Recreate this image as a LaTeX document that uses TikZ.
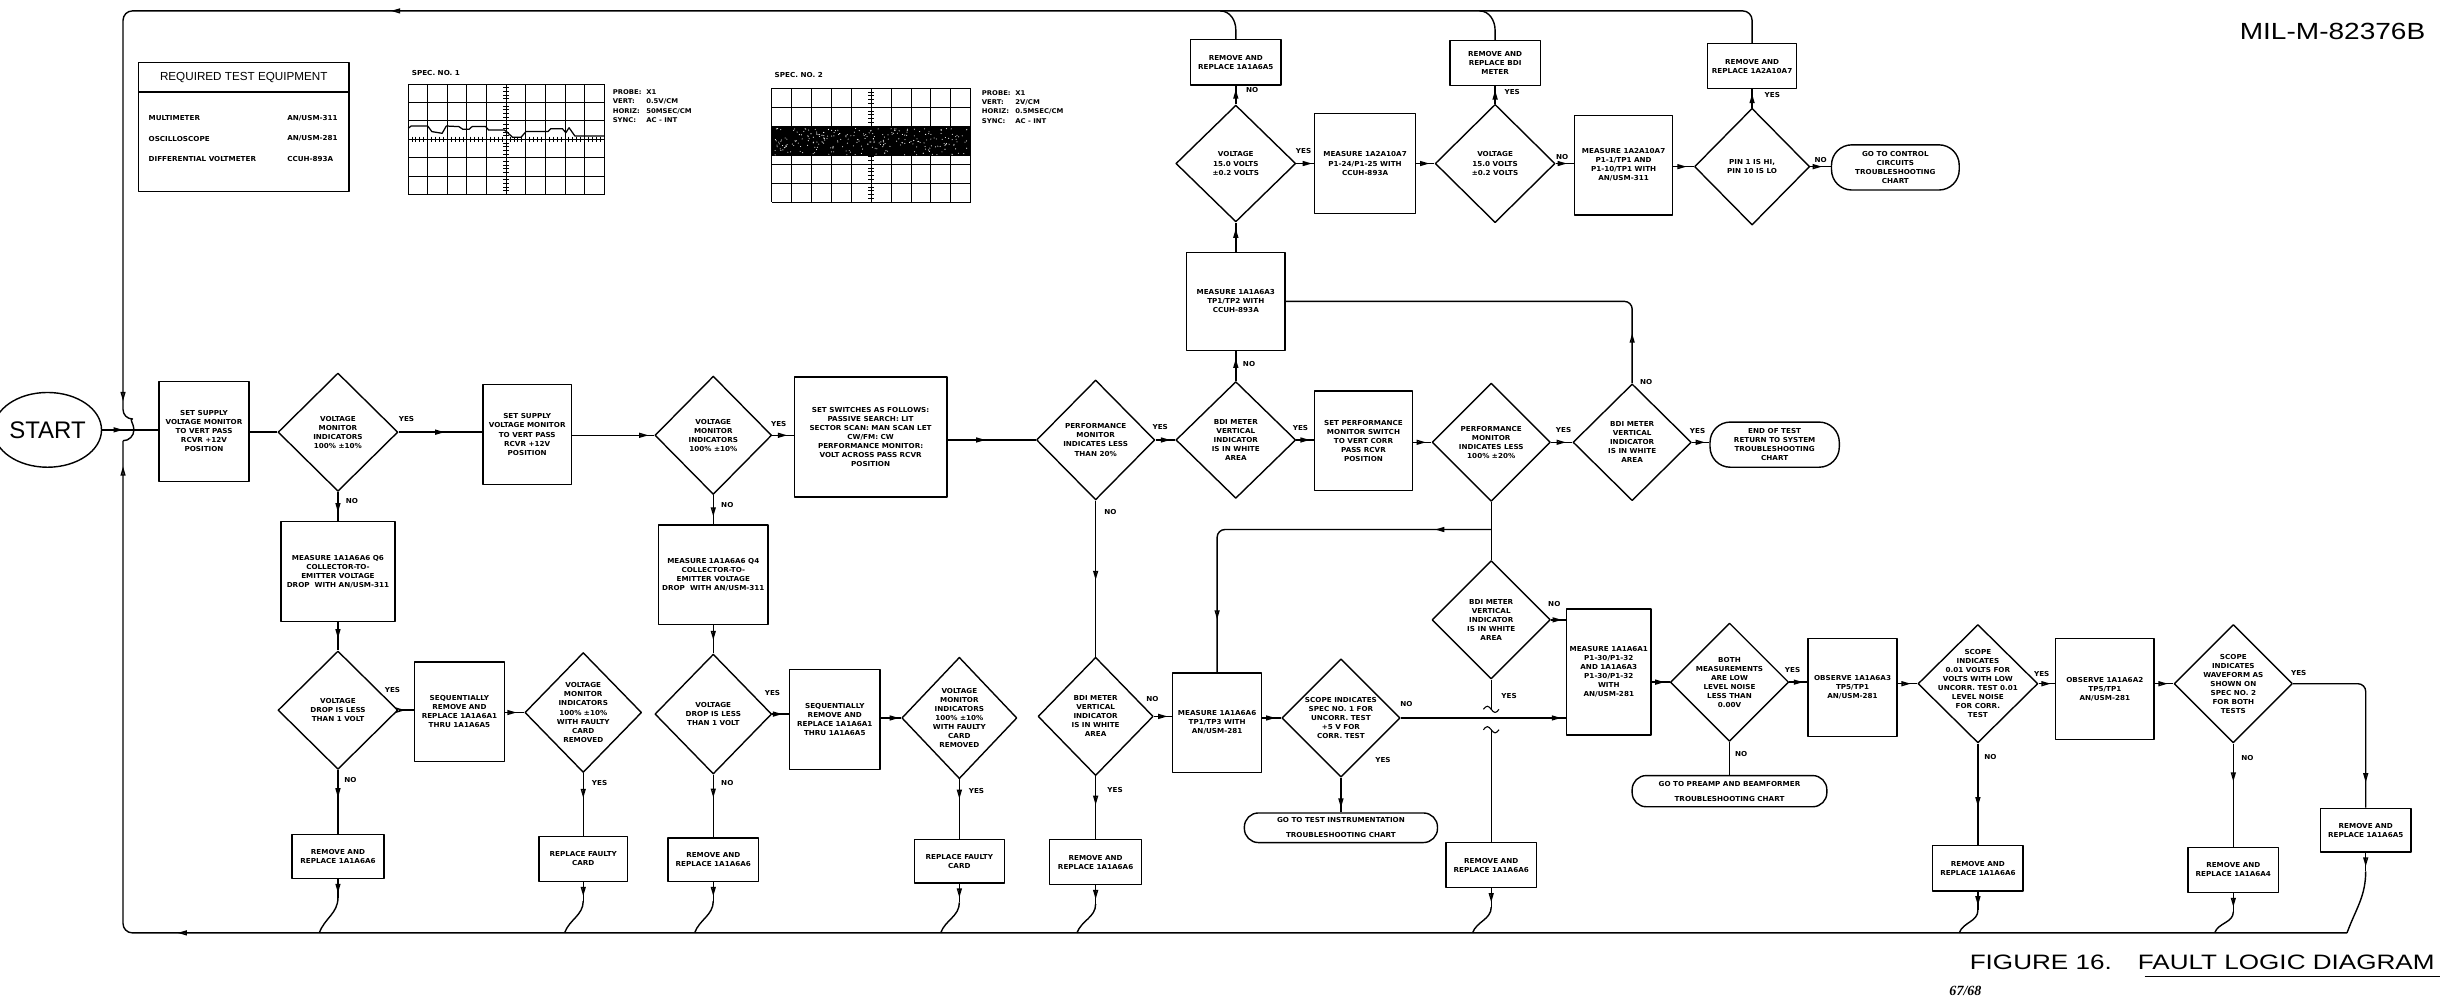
\documentclass[tikz,border=0pt]{standalone}
\usepackage{fontspec}
\setmainfont{Liberation Sans}
\newfontfamily\chartfont[FakeStretch=1.05]{DejaVu Sans}
\newfontfamily\pagefont{Liberation Serif}
\usetikzlibrary{arrows.meta,calc,decorations.markings,shapes.geometric,positioning}

\tikzset{
  >={Triangle[open,length=6pt,width=3.2pt]},
  txt/.style={font=\chartfont\bfseries\fontsize{4.4}{5.8}\selectfont,align=center,inner sep=0pt},
  lbl/.style={font=\chartfont\bfseries\fontsize{4.4}{5.8}\selectfont,inner sep=0pt},
  bx/.style 2 args={draw,rectangle,txt,minimum width=#1pt,minimum height=#2pt},
  term/.style 2 args={draw,rectangle,txt,rounded corners=9pt,minimum width=#1pt,minimum height=#2pt},
  dec/.style 2 args={draw,diamond,inner sep=0pt,minimum width=#1pt,minimum height=#2pt},
  flow/.style={decoration={markings,mark=at position #1 with {\arrow{>}}},postaction={decorate}},
  flow/.default=0.5,
  flowtwo/.style 2 args={decoration={markings,mark=at position #1 with {\arrow{>}},
    mark=at position #2 with {\arrow{>}}},postaction={decorate}},
}

\begin{document}
\begin{tikzpicture}[x=1pt,y=-1pt,line width=0.9pt,line join=round]
\useasboundingbox (0,0) rectangle (1568,643);

% page marks
\node[anchor=east,font=\fontsize{15}{16}\selectfont] (mil) at (1561,20) {\scalebox{1.2}[1]{MIL-M-82376B}};
\node[anchor=east,font=\fontsize{13.4}{14}\selectfont] (fig) at (1567,618)
  {\scalebox{1.25}[1]{FIGURE 16.\hspace{1em}FAULT LOGIC DIAGRAM}};
\draw[line width=1.2pt] (1377,627) -- (1567,627);
\node[font=\pagefont\bfseries\itshape\fontsize{9}{10}\selectfont] (pg) at (1262,636) {67/68};

% required test equipment
\node[draw,minimum width=135pt,minimum height=83pt] (eqp) at (156.5,81.5) {};
\draw (89,59) -- (224,59);
\node[font=\fontsize{7.5}{9}\selectfont] (eqt) at (156.5,50) {REQUIRED TEST EQUIPMENT};
\node[lbl,anchor=west] (eq1) at (95,76) {MULTIMETER};
\node[lbl,anchor=west] (eq1v) at (184,76) {AN/USM-311};
\node[lbl,anchor=west] (eq2) at (95,89) {OSCILLOSCOPE};
\node[lbl,anchor=west] (eq2v) at (184,89) {AN/USM-281};
\node[lbl,anchor=west] (eq3) at (95,102) {DIFFERENTIAL VOLTMETER};
\node[lbl,anchor=west] (eq3v) at (184,102) {CCUH-893A};

% spec no. 1
\node[lbl,anchor=west] (sp1) at (264,47) {SPEC. NO. 1};
\begin{scope}[line width=0.6pt]
  \foreach \i in {0,...,10} \draw (262+12.6*\i,54) -- (262+12.6*\i,125);
  \foreach \j in {0,...,6} \draw (262,54+11.83*\j) -- (388,54+11.83*\j);
  \foreach \k in {0,...,30} \draw (323.2,54+2.366*\k) -- (326.8,54+2.366*\k);
  \foreach \k in {0,...,50} \draw (262+2.52*\k,87.7) -- (262+2.52*\k,91.3);
\end{scope}
\draw[line width=0.8pt] plot coordinates {(262.1,82.4)(264,80.9)(274.6,80.9)(277.3,84.5)(283.9,85.6)
  (286.6,80.9)(294.6,81.3)(297.2,83)(301.2,83)(303.1,81.3)(311.9,81.3)(313.7,83.5)(323.9,83.5)
  (325.2,84.5)(329.2,88.2)(334.5,88.2)(337.7,84.5)(351.8,84.5)(353.7,82.6)(361.1,82.6)(363.3,85.2)
  (365.4,82)(369.1,87.3)(387.7,87.3)};
\node[lbl,anchor=north west,font=\chartfont\bfseries\fontsize{4.2}{6}\selectfont] (sp1t) at (393,56)
  {\begin{tabular}{@{}l@{\hspace{3pt}}l@{}}PROBE: & X1\\ VERT: & 0.5V/CM\\ HORIZ: & 50MSEC/CM\\ SYNC: & AC - INT\end{tabular}};

% spec no. 2
\node[lbl,anchor=west] (sp2) at (497,48) {SPEC. NO. 2};
\begin{scope}[line width=0.6pt]
  \foreach \i in {0,...,10} \draw (495.6+12.77*\i,56.7) -- (495.6+12.77*\i,129.9);
  \foreach \j in {0,...,6} \draw (495.6,56.7+12.2*\j) -- (623.3,56.7+12.2*\j);
  \foreach \k in {0,...,30} \draw (557.6,56.7+2.44*\k) -- (561.2,56.7+2.44*\k);
\end{scope}
\fill (495.6,81.5) rectangle (623.3,100.2);
\pgfmathsetseed{11}
\foreach \i in {1,...,260} \fill[white] ({497+125*rnd},{82.5+17*rnd}) circle[radius=0.35pt];
\node[lbl,anchor=north west,font=\chartfont\bfseries\fontsize{4.2}{6}\selectfont] (sp2t) at (630,56.5)
  {\begin{tabular}{@{}l@{\hspace{3pt}}l@{}}PROBE: & X1\\ VERT: & 2V/CM\\ HORIZ: & 0.5MSEC/CM\\ SYNC: & AC - INT\end{tabular}};

% top row
\node[bx={58}{29}] (r1) at (793.5,40) {REMOVE AND\\REPLACE 1A1A6A5};
\node[dec={77}{75},label={[txt]center:{VOLTAGE\\15.0 VOLTS\\±0.2 VOLTS}}] (d7) at (793.5,105) {};
\node[bx={65}{64}] (b6) at (876.5,105) {MEASURE 1A2A10A7\\P1-24/P1-25 WITH\\CCUH-893A};
\node[dec={77}{76},label={[txt]center:{VOLTAGE\\15.0 VOLTS\\±0.2 VOLTS}}] (d8) at (960,105) {};
\node[bx={58}{29}] (r2) at (960,40.5) {REMOVE AND\\REPLACE BDI\\METER};
\node[bx={63}{64}] (b7) at (1042.5,106) {MEASURE 1A2A10A7\\P1-1/TP1 AND\\P1-10/TP1 WITH\\AN/USM-311};
\node[dec={74}{75},label={[txt]center:{PIN 1 IS HI,\\PIN 10 IS LO}}] (d9) at (1125,107) {};
\node[bx={57}{29}] (r3) at (1125,42.5) {REMOVE AND\\REPLACE 1A2A10A7};
\node[term={82}{29},rounded corners=13pt] (t2) at (1217,107.5) {GO TO CONTROL\\CIRCUITS\\TROUBLESHOOTING\\CHART};
\node[bx={63}{63}] (b4) at (793.5,193.5) {MEASURE 1A1A6A3\\TP1/TP2 WITH\\CCUH-893A};

% main row
\node[draw,ellipse,minimum width=61pt,minimum height=48pt,inner sep=0pt,
  font=\fontsize{15.4}{16}\selectfont] (start) at (30.5,276) {START};
\node[bx={58}{64}] (b1) at (131,277) {SET SUPPLY\\VOLTAGE MONITOR\\TO VERT PASS\\RCVR +12V\\POSITION};
\node[dec={77}{76},label={[txt]center:{VOLTAGE\\MONITOR\\INDICATORS\\100\% ±10\%}}] (d1) at (217,277.5) {};
\node[bx={57}{64}] (b2) at (338.5,279) {SET SUPPLY\\VOLTAGE MONITOR\\TO VERT PASS\\RCVR +12V\\POSITION};
\node[dec={75}{76},label={[txt]center:{VOLTAGE\\MONITOR\\INDICATORS\\100\% ±10\%}}] (d2) at (458,279.5) {};
\node[bx={98}{77}] (b3) at (559,280.5) {SET SWITCHES AS FOLLOWS:\\PASSIVE SEARCH: LIT\\SECTOR SCAN: MAN SCAN LET\\
  CW/FM: CW\\PERFORMANCE MONITOR:\\VOLT ACROSS PASS RCVR\\POSITION};
\node[dec={76}{77},label={[txt]center:{PERFORMANCE\\MONITOR\\INDICATES LESS\\THAN 20\%}}] (d3) at (703.5,282.5) {};
\node[dec={77}{75},label={[txt]center:{BDI METER\\VERTICAL\\INDICATOR\\IS IN WHITE\\AREA}}] (d4) at (793.5,282.5) {};
\node[bx={63}{64}] (b5) at (875.5,283) {SET PERFORMANCE\\MONITOR SWITCH\\TO VERT CORR\\PASS RCVR\\POSITION};
\node[dec={76}{76},label={[txt]center:{PERFORMANCE\\MONITOR\\INDICATES LESS\\100\% ±20\%}}] (d5) at (957.5,284) {};
\node[dec={76}{75},label={[txt]center:{BDI METER\\VERTICAL\\INDICATOR\\IS IN WHITE\\AREA}}] (d6) at (1048,284) {};
\node[term={83}{29},rounded corners=13pt] (t1) at (1139.5,285.5) {END OF TEST\\RETURN TO SYSTEM\\TROUBLESHOOTING\\CHART};

% measure boxes
\node[bx={73}{64}] (b8) at (217,367) {MEASURE 1A1A6A6 Q6\\COLLECTOR-TO-\\EMITTER VOLTAGE\\DROP\ \ WITH AN/USM-311};
\node[bx={70}{64}] (b9) at (458,369) {MEASURE 1A1A6A6 Q4\\COLLECTOR-TO-\\EMITTER VOLTAGE\\DROP\ \ WITH AN/USM-311};
\node[dec={76}{76},label={[txt]center:{BDI METER\\VERTICAL\\INDICATOR\\IS IN WHITE\\AREA}}] (d15) at (957.5,398) {};

% lower row
\node[dec={77}{76},label={[txt]center:{VOLTAGE\\DROP IS LESS\\THAN 1 VOLT}}] (d10) at (217,456) {};
\node[bx={58}{64}] (b10) at (295,457) {SEQUENTIALLY\\REMOVE AND\\REPLACE 1A1A6A1\\THRU 1A1A6A5};
\node[dec={75}{77},label={[txt]center:{VOLTAGE\\MONITOR\\INDICATORS\\100\% ±10\%\\WITH FAULTY\\CARD\\REMOVED}}] (d11) at (374.5,457.5) {};
\node[dec={75}{77},label={[txt]center:{VOLTAGE\\DROP IS LESS\\THAN 1 VOLT}}] (d12) at (458,458.5) {};
\node[bx={58}{64}] (b11) at (536,462) {SEQUENTIALLY\\REMOVE AND\\REPLACE 1A1A6A1\\THRU 1A1A6A5};
\node[dec={74}{78},label={[txt]center:{VOLTAGE\\MONITOR\\INDICATORS\\100\% ±10\%\\WITH FAULTY\\CARD\\REMOVED}}] (d13) at (616,461) {};
\node[dec={74}{76},label={[txt]center:{BDI METER\\VERTICAL\\INDICATOR\\IS IN WHITE\\AREA}}] (d14) at (703.5,460) {};
\node[bx={57}{64}] (b12) at (781.5,464) {MEASURE 1A1A6A6\\TP1/TP3 WITH\\AN/USM-281};
\node[dec={76}{76},label={[txt]center:{SCOPE INDICATES\\SPEC NO. 1 FOR\\UNCORR. TEST\\+5 V FOR\\CORR. TEST}}] (d16) at (861,461) {};
\node[term={124}{19}] (t3) at (861,531.5) {GO TO TEST INSTRUMENTATION\\[3.8pt]TROUBLESHOOTING CHART};
\node[bx={54}{81}] (b13) at (1033,431.5) {MEASURE 1A1A6A1\\P1-30/P1-32\\AND 1A1A6A3\\P1-30/P1-32\\WITH\\AN/USM-281};
\node[dec={76}{76},label={[txt]center:{BOTH\\MEASUREMENTS\\ARE LOW\\LEVEL NOISE\\LESS THAN\\0.00V}}] (d17) at (1110.5,438) {};
\node[term={125}{20}] (t4) at (1110.5,508) {GO TO PREAMP AND BEAMFORMER\\[3.8pt]TROUBLESHOOTING CHART};
\node[bx={57}{63}] (b14) at (1189.5,441.5) {OBSERVE 1A1A6A3\\TP5/TP1\\AN/USM-281};
\node[dec={77}{76},label={[txt]center:{SCOPE\\INDICATES\\0.01 VOLTS FOR\\VOLTS WITH LOW\\UNCORR. TEST 0.01\\LEVEL NOISE\\FOR CORR.\\TEST}}] (d18) at (1270,439) {};
\node[bx={63}{65}] (b15) at (1351.5,442.5) {OBSERVE 1A1A6A2\\TP5/TP1\\AN/USM-281};
\node[dec={76}{76},label={[txt]center:{SCOPE\\INDICATES\\WAVEFORM AS\\SHOWN ON\\SPEC NO. 2\\FOR BOTH\\TESTS}}] (d19) at (1434,439) {};

% replace boxes
\node[bx={59}{28}] (r4) at (217,550) {REMOVE AND\\REPLACE 1A1A6A6};
\node[bx={57}{29}] (r5) at (374.5,551.5) {REPLACE FAULTY\\CARD};
\node[bx={58}{28}] (r6) at (458,552) {REMOVE AND\\REPLACE 1A1A6A6};
\node[bx={58}{28}] (r7) at (616,553) {REPLACE FAULTY\\CARD};
\node[bx={59}{29}] (r8) at (703.5,553.5) {REMOVE AND\\REPLACE 1A1A6A6};
\node[bx={58}{29}] (r9) at (957.5,555.5) {REMOVE AND\\REPLACE 1A1A6A6};
\node[bx={58}{29}] (r10) at (1270,557.5) {REMOVE AND\\REPLACE 1A1A6A6};
\node[bx={58}{29}] (r12) at (1434,558.5) {REMOVE AND\\REPLACE 1A1A6A4};
\node[bx={58}{28}] (r11) at (1519,533) {REMOVE AND\\REPLACE 1A1A6A5};

% yes / no labels
\node[lbl] (n7) at (804,58) {NO};
\node[lbl] (y7) at (837,97) {YES};
\node[lbl] (y8) at (971,59) {YES};
\node[lbl] (n8) at (1003,101) {NO};
\node[lbl] (y9) at (1138,61) {YES};
\node[lbl] (n9) at (1169,103) {NO};
\node[lbl] (y1) at (261,269) {YES};
\node[lbl] (n1) at (226,322) {NO};
\node[lbl] (y2) at (500,272) {YES};
\node[lbl] (n2) at (467,324) {NO};
\node[lbl] (y3) at (745,274) {YES};
\node[lbl] (n3) at (713,329) {NO};
\node[lbl] (y4) at (835,275) {YES};
\node[lbl] (n4) at (802,234) {NO};
\node[lbl] (y5) at (1004,276) {YES};
\node[lbl] (y6) at (1090,277) {YES};
\node[lbl] (n6) at (1057,245) {NO};
\node[lbl] (y10) at (252,443) {YES};
\node[lbl] (n10) at (225,501) {NO};
\node[lbl] (y11) at (385,503) {YES};
\node[lbl] (y12) at (496,445) {YES};
\node[lbl] (n12) at (467,503) {NO};
\node[lbl] (y13) at (627,508) {YES};
\node[lbl] (n14) at (740,449) {NO};
\node[lbl] (y14) at (716,507) {YES};
\node[lbl] (n16) at (903,452) {NO};
\node[lbl] (y16) at (888,488) {YES};
\node[lbl] (n15) at (998,388) {NO};
\node[lbl] (y15) at (969,447) {YES};
\node[lbl] (y17) at (1151,430) {YES};
\node[lbl] (n17) at (1118,484) {NO};
\node[lbl] (y18) at (1311,433) {YES};
\node[lbl] (n18) at (1278,486) {NO};
\node[lbl] (y19) at (1476,432) {YES};
\node[lbl] (n19) at (1443,487) {NO};

\coordinate (tl) at (0,7);
\coordinate (bl) at (0,599);
\coordinate (jn) at (957.5,340);

% main row connectors
\draw[flow=0.37] (start.east) -- (start.east -| b1.west);
\draw (b1.east |- d1.west) -- (d1.west);
\draw[flow=0.55] (d1.east) -- (d1.east -| b2.west);
\draw[flow=0.93] (b2.east |- d2.west) -- (d2.west);
\draw[flow=0.7] (d2.east) -- (d2.east -| b3.west);
\draw[flow=0.43] (b3.east |- d3.west) -- (d3.west);
\draw[flow=0.75] (d3.east) -- (d4.west);
\draw[flow=0.77] (d4.east) -- (d4.east -| b5.west);
\draw[flow=0.7] (b5.east |- d5.west) -- (d5.west);
\draw[flow=0.7] (d5.east) -- (d6.west);
\draw[flow=0.75] (d6.east) -- (d6.east -| t1.west);

% top row connectors
\draw[flow=0.75] (d4.north) -- (b4.south);
\draw[flow=0.8] (b4.north) -- (d7.south);
\draw[flow=0.8] (d7.north) -- (r1.south);
\draw[flow=0.9] (d7.east) -- (d7.east -| b6.west);
\draw[flow=0.72] (b6.east |- d8.west) -- (d8.west);
\draw[flow=0.78] (d8.north) -- (r2.south);
\draw[flow=0.62] (d8.east) -- (d8.east -| b7.west);
\draw[flow=0.65] (b7.east |- d9.west) -- (d9.west);
\draw[flow=0.76] (d9.north) -- (r3.south);
\draw[flow=0.57] (d9.east) -- (d9.east -| t2.west);
\draw[rounded corners=5pt,flow=32pt] (d6.north) |- (b4.east);

% return to start along the top
\draw (r1.north) -- ++(0,-6) to[out=90,in=0] ($(r1.north |- tl)+(-10,0)$);
\draw (r2.north) -- ++(0,-6) to[out=90,in=0] ($(r2.north |- tl)+(-10,0)$);
\draw[rounded corners=6pt,flowtwo={892pt}{1312pt}] (r3.north) -- (r3.north |- tl) -- (79,7) -- (79,269)
  arc[start angle=90,end angle=-90,radius=7pt];

% left half, lower branches
\draw[flow=0.7] (d1.south) -- (b8.north);
\draw[flow=0.74] (d2.south) -- (b9.north);
\draw[flow=0.58] (b8.south) -- (d10.north);
\draw[flow=0.53] (b9.south) -- (d12.north);
\draw[flow=0.45] (d10.east) -- (d10.east -| b10.west);
\draw[flow=0.6] (b10.east |- d11.west) -- (d11.west);
\draw[flow=0.6] (d12.east) -- (d12.east -| b11.west);
\draw[flow=0.9] (b11.east |- d13.west) -- (d13.west);
\draw[flow=0.43] (d10.south) -- (r4.north);
\draw[flow=0.4] (d11.south) -- (r5.north);
\draw[flow=0.37] (d12.south) -- (r6.north);
\draw[flow=0.33] (d13.south) -- (r7.north);

% middle branches
\draw[flow=0.51] (d3.south) -- (d14.north);
\draw[flow=0.46] (d14.south) -- (r8.north);
\draw[flow=0.75] (d14.east) -- (d14.east -| b12.west);
\draw[flow=0.7] (b12.east |- d16.west) -- (d16.west);
\draw[flow=0.87] (d16.south) -- (d16.south |- t3.north);
\draw[flow=0.97] (d16.east) -- (d16.east -| b13.west);
\draw (d5.south) -- (d15.north);
\draw[rounded corners=5pt,flowtwo={0.136}{0.873}] (jn) -| (b12.north);
\draw[flow=0.72] (d15.east) -- (d15.east -| b13.west);
\draw (d15.south) -- ++(0,19) coordinate (ta);
\draw (r9.north) -- ++(0,-72) coordinate (tb);
\draw[line width=0.7pt] (ta) ++(-5,0) sin ++(2.5,-2) cos ++(2.5,2) sin ++(2.5,2) cos ++(2.5,-2);
\draw[line width=0.7pt] (tb) ++(-5,0) sin ++(2.5,-2) cos ++(2.5,2) sin ++(2.5,2) cos ++(2.5,-2);

% right half
\draw[flow=0.72] (b13.east |- d17.west) -- (d17.west);
\draw (d17.south) -- (d17.south |- t4.north);
\draw[flow=0.76] (d17.east) -- (d17.east -| b14.west);
\draw[flow=0.67] (b14.east |- d18.west) -- (d18.west);
\draw[flow=0.74] (d18.east) -- (d18.east -| b15.west);
\draw[flow=0.7] (b15.east |- d19.west) -- (d19.west);
\draw[flow=0.62] (d18.south) -- (r10.north);
\draw[flow=0.37] (d19.south) -- (r12.north);
\draw[rounded corners=5pt,flow=0.87] (d19.east) -| (r11.north);

% return to start along the bottom
\foreach \r in {r4,r5,r6,r7,r8,r9,r10,r12,r11} {
  \draw[flow=0.75] (\r.south) -- ++(0,12);
  \draw ([yshift=-12pt]\r.south) to[out=-90,in=70] ($(\r.south |- bl)+(-12,0)$);
}
\draw[rounded corners=6pt,flowtwo={1393pt}{1725pt}] (1507,599) -- (79,599) -- (79,283);
\end{tikzpicture}
\end{document}
